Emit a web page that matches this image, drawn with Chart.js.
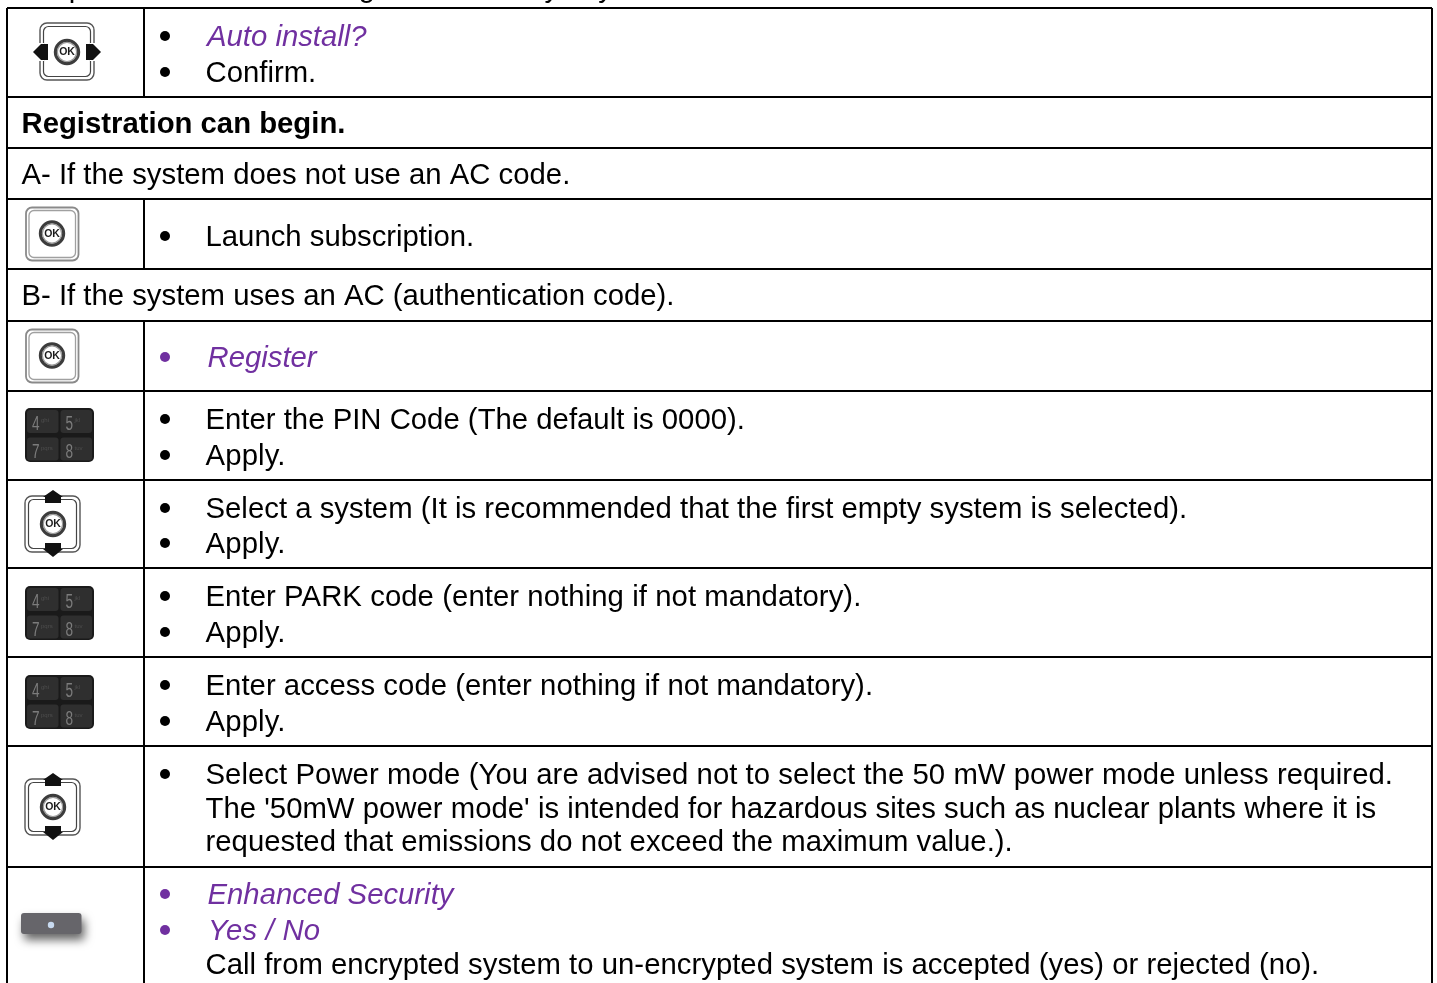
<!DOCTYPE html>
<html><head><meta charset="utf-8">
<style>html,body{margin:0;padding:0;background:#fff;overflow:hidden}#w{position:absolute;left:0;top:0;width:1437px;height:983px}</style>
<script src="https://cdn.jsdelivr.net/npm/chart.js@4"></script></head>
<body><div id="w"><canvas id="c"></canvas></div>
<script>
const rowRules=[8,97,148,199,269,321,391,480,568,657,746,867];
const columnRules=[7,144,1432];
const rowsSplit=[[8,97],[199,269],[321,983]];
const BLACK='#000000',PURPLE='#7030A0';
const clippedLine="Complete the sections using the menu keys by";
const lineTexts=["Auto install?","Confirm.","Registration can begin.","A- If the system does not use an AC code.","Launch subscription.","B- If the system uses an AC (authentication code).","Register","Enter the PIN Code (The default is 0000).","Apply.","Select a system (It is recommended that the first empty system is selected).","Apply.","Enter PARK code (enter nothing if not mandatory).","Apply.","Enter access code (enter nothing if not mandatory).","Apply.","Select Power mode (You are advised not to select the 50 mW power mode unless required.","The '50mW power mode' is intended for hazardous sites such as nuclear plants where it is","requested that emissions do not exceed the maximum value.).","Enhanced Security","Yes / No","Call from encrypted system to un-encrypted system is accepted (yes) or rejected (no)."];
const lineBaselines=[46,82,133,184,246,305,367,429,465,518,553,606,642,695,731,784,818,851,904,940,974];
const lineLefts=[207,205.5,21.5,21.5,205.5,21.5,207.5,205.5,205.5,205.5,205.5,205.5,205.5,205.5,205.5,205.5,205.5,205.5,207.5,208,205.5];
const lineStyles=["i","n","b","n","n","n","i","n","n","n","n","n","n","n","n","n","n","n","i","i","n"];
const lineBullets=["k","k","","","k","","p","k","k","k","k","k","k","k","k","k","","","p","p",""];
const lineTracking=[0,0,0,0,0,0,0,0.01,0.15,0.02,0.15,0.07,0.15,0.03,0.15,0.055,0.02,0.02,0,0.2,0.02];
const iconKinds=["lr","ok","ok","keys","ud","keys","keys","ud","bar"];
const iconX=[67,52,52,59.5,53,59.5,59.5,53,51];
const iconY=[52,234,356,435,524,613,702,807,925];
const keyLabels=["4","5","7","8"];
const keyLetters=["ghi","jkl","pqrs","tuv"];
const FONT_PX=29.3,FAMILY='"Liberation Sans",Arial,sans-serif';

function rr(ctx,x,y,w,h,r){ctx.beginPath();ctx.roundRect(x,y,w,h,r);}
function poly(ctx,pts){ctx.beginPath();pts.forEach((p,i)=>i?ctx.lineTo(p[0],p[1]):ctx.moveTo(p[0],p[1]));ctx.closePath();ctx.fill();}
function okBadge(ctx,x,y){
  ctx.fillStyle='#fff';ctx.strokeStyle='#3c3c3c';ctx.lineWidth=3.2;
  ctx.beginPath();ctx.arc(x,y,11.6,0,7);ctx.fill();ctx.stroke();
  ctx.strokeStyle='#9a9a9a';ctx.lineWidth=1.2;ctx.beginPath();ctx.arc(x,y,9.6,0,7);ctx.stroke();
  ctx.fillStyle='#1a1a1a';ctx.font='bold 10.5px '+FAMILY;ctx.textAlign='center';ctx.textBaseline='middle';
  ctx.fillText('OK',x,y+.5);ctx.textAlign='left';ctx.textBaseline='alphabetic';
}
function doubleFrame(ctx,x,y,w,h){
  ctx.strokeStyle='#555';ctx.lineWidth=1.4;rr(ctx,x,y,w,h,7);ctx.stroke();
  ctx.strokeStyle='#444';ctx.lineWidth=1.2;rr(ctx,x+3.5,y+3.5,w-7,h-7,5);ctx.stroke();
}
function drawIcon(ctx,k,x,y,n){
  ctx.save();
  if(k==='ok'){
    ctx.strokeStyle='#8a8a8a';ctx.lineWidth=1.8;rr(ctx,x-26,y-26.5,52.5,53,6);ctx.stroke();
    ctx.strokeStyle='#a0a0a0';ctx.lineWidth=1.3;rr(ctx,x-23,y-23.5,46.5,47,5);ctx.stroke();
    okBadge(ctx,x,y-.5);
  }else if(k==='lr'){
    doubleFrame(ctx,x-27,y-29,54,57);
    ctx.fillStyle='#fff';ctx.fillRect(x-29,y-9,6,18);ctx.fillRect(x+23,y-9,6,18);
    ctx.fillStyle='#111';
    poly(ctx,[[x-34,y],[x-26,y-8],[x-19,y-8],[x-19,y+8],[x-26,y+8]]);
    poly(ctx,[[x+34,y],[x+26,y-8],[x+19,y-8],[x+19,y+8],[x+26,y+8]]);
    okBadge(ctx,x,y);
  }else if(k==='ud'){
    doubleFrame(ctx,x-28,y-28,55,56);
    ctx.fillStyle='#111';
    poly(ctx,[[x,y-34],[x+10,y-27],[x+8,y-27],[x+8,y-21],[x-8,y-21],[x-8,y-27],[x-10,y-27]]);
    poly(ctx,[[x,y+33],[x+10,y+25],[x+8,y+25],[x+8,y+19],[x-8,y+19],[x-8,y+25],[x-10,y+25]]);
    okBadge(ctx,x,y);
  }else if(k==='keys'){
    ctx.fillStyle='#1a1a1a';rr(ctx,x-34.5,y-27,69,54,5);ctx.fill();
    [[-32.5,-25],[1,-25],[-32.5,2.5],[1,2.5]].forEach((o,i)=>{
      ctx.fillStyle='#2f2f2f';rr(ctx,x+o[0],y+o[1],31.5,23,3);ctx.fill();
      ctx.save();ctx.translate(x+o[0]+5,y+o[1]+20);ctx.scale(.68,1);
      ctx.fillStyle='#7c7c7c';ctx.font='20px '+FAMILY;ctx.fillText(keyLabels[i],0,0);ctx.restore();
      ctx.fillStyle='#4e4e4e';ctx.font='6px '+FAMILY;ctx.fillText(keyLetters[i],x+o[0]+14,y+o[1]+12);
    });
  }else if(k==='bar'){
    ctx.save();ctx.shadowColor='rgba(0,0,0,.6)';ctx.shadowBlur=10;ctx.shadowOffsetX=3;ctx.shadowOffsetY=6;
    ctx.fillStyle='#66656a';rr(ctx,x-30,y-12,60.5,21,3);ctx.fill();ctx.restore();
    ctx.fillStyle='#c8daf0';ctx.beginPath();ctx.arc(x,y,3.2,0,7);ctx.fill();
  }
  ctx.restore();
}
const pagePlugin={id:'page',afterDatasetsDraw(chart){
  const {ctx,scales:{x,y}}=chart;
  ctx.save();
  ctx.fillStyle=BLACK;ctx.font=FONT_PX+'px '+FAMILY;
  ctx.fillText(clippedLine,x.getPixelForValue(7),y.getPixelForValue(-3));
  lineTexts.forEach((t,i)=>{
    const s=lineStyles[i];
    ctx.font=(s==='i'?'italic ':s==='b'?'bold ':'')+FONT_PX+'px '+FAMILY;
    ctx.letterSpacing=lineTracking[i]+'px';
    ctx.fillStyle=s==='i'?PURPLE:BLACK;
    ctx.fillText(t,x.getPixelForValue(lineLefts[i]),y.getPixelForValue(lineBaselines[i]));
    ctx.letterSpacing='0px';
    if(lineBullets[i]){ctx.fillStyle=lineBullets[i]==='p'?PURPLE:BLACK;ctx.beginPath();ctx.arc(x.getPixelForValue(165),y.getPixelForValue(lineBaselines[i]-10),5,0,7);ctx.fill();}
  });
  iconKinds.forEach((k,i)=>drawIcon(ctx,k,x.getPixelForValue(iconX[i]),y.getPixelForValue(iconY[i]),i));
  ctx.restore();
}};
function seg(a,b,c,d){return {type:'line',data:[{x:a,y:b},{x:c,y:d}],borderColor:BLACK,borderWidth:2,pointRadius:0,tension:0,clip:false};}
const ds=[];
rowRules.forEach(v=>ds.push(seg(columnRules[0],v,columnRules[2],v)));
ds.push(seg(columnRules[0],rowRules[0],columnRules[0],983));
ds.push(seg(columnRules[2],rowRules[0],columnRules[2],983));
rowsSplit.forEach(r=>ds.push(seg(columnRules[1],r[0],columnRules[1],r[1])));
new Chart(document.getElementById('c'),{type:'scatter',data:{datasets:ds},plugins:[pagePlugin],options:{
  responsive:true,maintainAspectRatio:false,animation:false,layout:{padding:0},
  plugins:{legend:{display:false},tooltip:{enabled:false}},
  scales:{x:{type:'linear',display:false,min:0,max:1437},y:{type:'linear',display:false,reverse:true,min:0,max:983}}
}});
</script></body></html>
